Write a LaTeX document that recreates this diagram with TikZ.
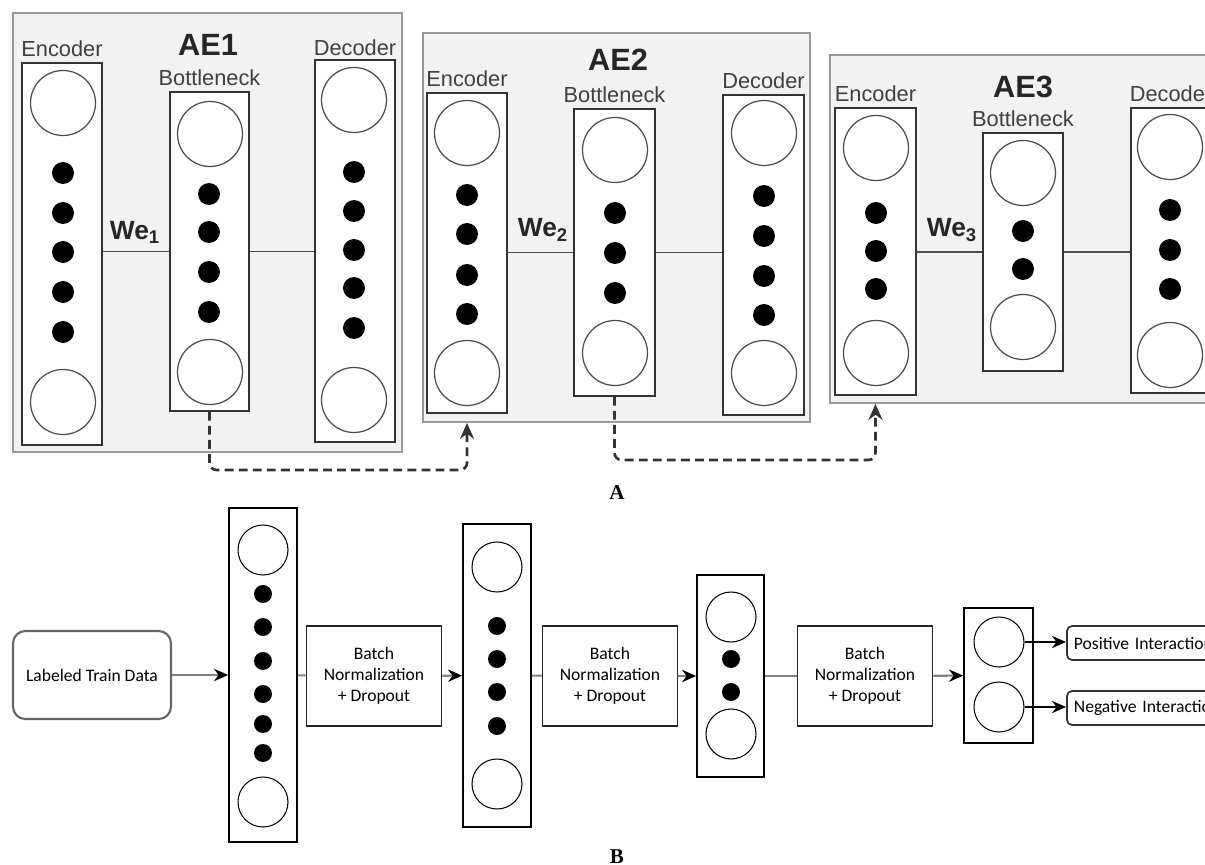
\documentclass[tikz,border=0pt]{standalone}
\usepackage{fontspec}
\setmainfont{Liberation Sans}
\newfontfamily\calfont{Carlito}
\newfontfamily\capfont{Liberation Serif}
\usetikzlibrary{positioning, arrows.meta, fit}

\begin{document}
\begin{tikzpicture}[
  x=0.02cm, y=-0.02cm,
  aebox/.style={draw=black!40, fill=gray!10, line width=1.2pt, inner sep=0pt},
  layer/.style={draw=black!80, fill=white, line width=1pt, inner sep=0pt},
  unit/.style={circle, draw=black!70, fill=white, line width=0.7pt, minimum size=1.3cm, inner sep=0pt},
  dot/.style={circle, fill=black, minimum size=0.44cm, inner sep=0pt},
  lbl/.style={font=\fontsize{12.4}{14}\selectfont, text=black!75, inner sep=0pt},
  aetitle/.style={font=\fontsize{17.5}{20}\selectfont\bfseries, text=black!85},
  wlbl/.style={font=\fontsize{15}{17}\selectfont\bfseries, text=black!85},
  wire/.style={draw=black!70, line width=0.8pt},
  link/.style={-{Stealth[length=9pt, width=8pt]}, draw=black!80, line width=1.5pt,
    dash pattern=on 5pt off 3pt, rounded corners=4pt},
  datanode/.style={draw=black!60, line width=1.2pt, rounded corners=7pt, align=center,
    minimum width=3.16cm, minimum height=1.76cm, font=\calfont\fontsize{10}{12}\selectfont},
  stage/.style={draw=black, line width=1pt, inner sep=0pt},
  bnbox/.style={draw=black!85, line width=1.1pt, align=center, minimum width=2.7cm,
    minimum height=2cm, font=\calfont\fontsize{10}{12}\selectfont},
  cell/.style={circle, draw=black, line width=0.6pt, minimum size=1cm, inner sep=0pt},
  bdot/.style={circle, fill=black, minimum size=0.36cm, inner sep=0pt},
  flow/.style={-{Stealth[length=8pt, width=7pt, color=black]}, draw=black!50, line width=1.2pt},
  feed/.style={draw=black!50, line width=1.2pt},
  outflow/.style={-{Stealth[length=8pt, width=7pt]}, draw=black, line width=0.8pt},
  outbox/.style={draw=black!80, line width=1pt, rounded corners=3pt, anchor=west, align=left,
    text width=3.2cm, minimum height=0.68cm, inner xsep=4pt, font=\calfont\fontsize{10}{12}\selectfont},
  part/.style={font=\capfont\fontsize{12}{14}\selectfont\bfseries}
]
\useasboundingbox (0,0) rectangle (1205,865);
\clip (0,0) rectangle (1205,865);

% ---------- A: stacked autoencoders ----------
\node[aebox, fit={(13,13) (402,452)}] (ae1) {};
\node[aebox, fit={(423,33) (810,422)}] (ae2) {};
\node[aebox, fit={(830,55) (1215,403)}] (ae3) {};

\node[aetitle] (t1) at (208,45) {AE1};
\node[aetitle] (t2) at (618,60) {AE2};
\node[aetitle] (t3) at (1023,87) {AE3};

% AE1 layers
\node[layer, fit={(22,63) (102,445)}] (enc1) {};
\node[layer, fit={(170,92) (249,411)}] (bot1) {};
\node[layer, fit={(315,60) (395,442)}] (dec1) {};
\node[lbl, above=3pt of enc1] (enc1l) {Encoder};
\node[lbl, above=3pt of bot1] (bot1l) {Bottleneck};
\node[lbl, above=2pt of dec1] (dec1l) {Decoder};
\node[unit] (enc1t) at (63,103) {};
\node[unit] (enc1b) at (63,402) {};
\node[unit] (bot1t) at (210,134) {};
\node[unit] (bot1b) at (210,372) {};
\node[unit] (dec1t) at (354,100) {};
\node[unit] (dec1b) at (354,400) {};
\foreach \y [count=\k] in {173,213,252,292,332} \node[dot] (enc1d\k) at (63,\y) {};
\foreach \y [count=\k] in {194,232,272,312} \node[dot] (bot1d\k) at (209,\y) {};
\foreach \y [count=\k] in {172,211,250,288,328} \node[dot] (dec1d\k) at (354,\y) {};
\draw[wire] (bot1.west -| enc1.east) -- (bot1.west);
\draw[wire] (bot1.east) -- (bot1.east -| dec1.west);
\node[wlbl] (we1) at (135,232) {We\textsubscript{1}};

% AE2 layers
\node[layer, fit={(427,93) (507,413)}] (enc2) {};
\node[layer, fit={(574,109) (655,396)}] (bot2) {};
\node[layer, fit={(723,95) (804,415)}] (dec2) {};
\node[lbl, above=3pt of enc2] (enc2l) {Encoder};
\node[lbl, above=3pt of bot2] (bot2l) {Bottleneck};
\node[lbl, above=3pt of dec2] (dec2l) {Decoder};
\node[unit] (enc2t) at (467,133) {};
\node[unit] (enc2b) at (467,373) {};
\node[unit] (bot2t) at (615,150) {};
\node[unit] (bot2b) at (615,353) {};
\node[unit] (dec2t) at (764,133) {};
\node[unit] (dec2b) at (764,373) {};
\foreach \y [count=\k] in {195,234,275,314} \node[dot] (enc2d\k) at (467,\y) {};
\foreach \y [count=\k] in {213,253,293} \node[dot] (bot2d\k) at (615,\y) {};
\foreach \y [count=\k] in {196,236,276,315} \node[dot] (dec2d\k) at (764,\y) {};
\draw[wire] (bot2.west -| enc2.east) -- (bot2.west);
\draw[wire] (bot2.east) -- (bot2.east -| dec2.west);
\node[wlbl] (we2) at (543,230) {We\textsubscript{2}};

% AE3 layers
\node[layer, fit={(835,108) (916,395)}] (enc3) {};
\node[layer, fit={(983,133) (1063,371)}] (bot3) {};
\node[layer, fit={(1131,108) (1211,393)}] (dec3) {};
\node[lbl, above=3pt of enc3] (enc3l) {Encoder};
\node[lbl, above=3pt of bot3] (bot3l) {Bottleneck};
\node[lbl, above=3pt of dec3] (dec3l) {Decoder};
\node[unit] (enc3t) at (876,148) {};
\node[unit] (enc3b) at (876,353) {};
\node[unit] (bot3t) at (1023,173) {};
\node[unit] (bot3b) at (1023,327) {};
\node[unit] (dec3t) at (1170,147) {};
\node[unit] (dec3b) at (1170,355) {};
\foreach \y [count=\k] in {213,251,289} \node[dot] (enc3d\k) at (876,\y) {};
\foreach \y [count=\k] in {231,269} \node[dot] (bot3d\k) at (1023,\y) {};
\foreach \y [count=\k] in {210,250,289} \node[dot] (dec3d\k) at (1170,\y) {};
\draw[wire] (bot3.west -| enc3.east) -- (bot3.west);
\draw[wire] (bot3.east) -- (bot3.east -| dec3.west);
\node[wlbl] (we3) at (952,230) {We\textsubscript{3}};

% bottleneck output feeds the next encoder
\coordinate (low1) at (0,470);
\coordinate (low2) at (0,460);
\draw[link] (bot1.south) -- (bot1.south |- low1) -| (enc2.south |- ae2.south);
\draw[link] (bot2.south) -- (bot2.south |- low2) -| (enc3.south |- ae3.south);

\node[part] (capA) at (617,493) {A};

% ---------- B: classifier ----------
\node[datanode] (data) at (92,675) {Labeled Train Data};

\node[stage, fit={(229,508) (297,842)}] (l1) {};
\node[cell] (l1t) at (263,550) {};
\node[cell] (l1b) at (263,802) {};
\foreach \y [count=\k] in {594,627,661,694,724,753} \node[bdot] (l1d\k) at (263,\y) {};

\node[bnbox] (bn1) at (374,676) {Batch\\Normalization\\+ Dropout};

\node[stage, fit={(463,524) (531,827)}] (l2) {};
\node[cell] (l2t) at (497,567) {};
\node[cell] (l2b) at (497,784) {};
\foreach \y [count=\k] in {626,659,692,726} \node[bdot] (l2d\k) at (497,\y) {};

\node[bnbox] (bn2) at (610,676) {Batch\\Normalization\\+ Dropout};

\node[stage, fit={(697,575) (764,777)}] (l3) {};
\node[cell] (l3t) at (731,617) {};
\node[cell] (l3b) at (731,734) {};
\foreach \y [count=\k] in {659,692} \node[bdot] (l3d\k) at (731,\y) {};

\node[bnbox] (bn3) at (865,676) {Batch\\Normalization\\+ Dropout};

\node[stage, fit={(964,608) (1033,743)}] (l4) {};
\node[cell] (o1) at (999,642) {};
\node[cell] (o2) at (999,707) {};

\node[outbox] (pos) at (1066,643) {Positive Interaction};
\node[outbox] (neg) at (1066,708) {Negative Interaction};

% connectors
\draw[flow] (data) -- (l1);
\draw[feed] (l1) -- (bn1);
\draw[flow] (bn1) -- (l2);
\draw[feed] (l2) -- (bn2);
\draw[flow] (bn2) -- (l3);
\draw[feed] (l3) -- (bn3);
\draw[flow] (bn3) -- (l4);
\draw[outflow] (o1.east) -- (o1.east -| pos.west);
\draw[outflow] (o2.east) -- (o2.east -| neg.west);

\node[part] (capB) at (617,857) {B};

\end{tikzpicture}
\end{document}
